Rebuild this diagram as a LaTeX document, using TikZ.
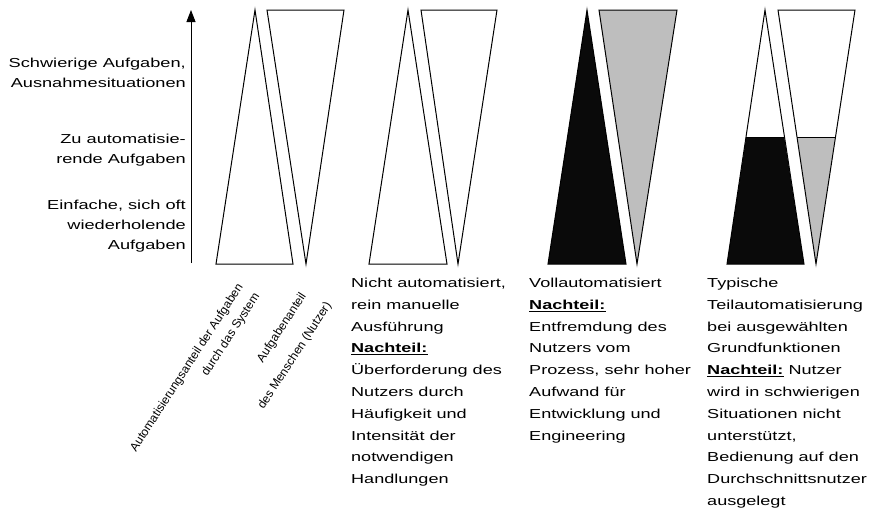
\documentclass[tikz,border=0pt]{standalone}
\usepackage{fontspec}
\setmainfont{Liberation Sans}
\usetikzlibrary{arrows.meta}
\definecolor{tgrey}{RGB}{190,190,190}
\definecolor{tblack}{RGB}{10,10,10}
\newcommand{\widel}[1]{\scalebox{1.39}[1]{\begin{tabular}{@{}l@{}}#1\end{tabular}}}
\newcommand{\wider}[1]{\scalebox{1.40}[1]{\begin{tabular}{@{}r@{}}#1\end{tabular}}}
\tikzset{
  tri/.style={draw=black, line width=1pt, line join=miter},
  lbl/.style={font=\fontsize{13}{20}\selectfont, anchor=east, inner sep=0pt},
  ptxt/.style={font=\fontsize{13}{21.8}\selectfont, anchor=north west, inner sep=0pt},
  rlbl/.style={font=\fontsize{12}{14}\selectfont, anchor=center, inner sep=0pt, rotate=57},
  axis/.style={line width=1pt, -{Triangle[length=12pt,width=9pt]}}
}
\begin{document}
\begin{tikzpicture}[x=1pt,y=-1pt]
\useasboundingbox (0,0) rectangle (871,507);
% axis
\coordinate (ax0) at (191,263);
\coordinate (ax1) at (191,10);
\draw[axis] (ax0) -- (ax1);
% left labels
\node[lbl] (l1) at (186,73) {\wider{Schwierige Aufgaben,\\Ausnahmesituationen}};
\node[lbl] (l2) at (186,149) {\wider{Zu automatisie-\\rende Aufgaben}};
\node[lbl] (l3) at (186,225) {\wider{Einfache, sich oft\\wiederholende\\Aufgaben}};
% pair 1
\draw[tri, fill=white] (216,264) -- (255,10) -- (293,264) -- cycle;
\draw[tri, fill=white] (267,10) -- (344,10) -- (306,264) -- cycle;
% pair 2
\draw[tri, fill=white] (369,264) -- (408,10) -- (447,264) -- cycle;
\draw[tri, fill=white] (421,10) -- (497,10) -- (458,264) -- cycle;
% pair 3
\draw[tri, fill=tblack] (548,264) -- (587,10) -- (626,264) -- cycle;
\draw[tri, fill=tgrey] (599,10) -- (677,10) -- (637,264) -- cycle;
% pair 4
\fill[tblack] (727,264) -- (746.2,137) -- (784.2,137) -- (804,264) -- cycle;
\fill[tgrey] (797.2,137) -- (835.2,137) -- (816,264) -- cycle;
\draw[tri] (727,264) -- (765,10) -- (804,264) -- cycle;
\draw[tri] (746.2,137) -- (784.2,137);
\draw[tri] (778,10) -- (855,10) -- (816,264) -- cycle;
\draw[tri] (797.2,137) -- (835.2,137);
% rotated labels
\node[rlbl] (r1a) at (187,368) {Automatisierungsanteil der Aufgaben};
\node[rlbl] (r1b) at (231,335) {durch das System};
\node[rlbl] (r2a) at (282,328) {Aufgabenanteil};
\node[rlbl] (r2b) at (295,356) {des Menschen (Nutzer)};
% panel texts
\node[ptxt] (t2) at (351,272) {\widel{Nicht automatisiert,\\rein manuelle\\Ausführung\\\underline{\textbf{Nachteil:}}\\Überforderung des\\Nutzers durch\\Häufigkeit und\\Intensität der\\notwendigen\\Handlungen}};
\node[ptxt] (t3) at (529,272) {\widel{Vollautomatisiert\\\underline{\textbf{Nachteil:}}\\Entfremdung des\\Nutzers vom\\Prozess, sehr hoher\\Aufwand für\\Entwicklung und\\Engineering}};
\node[ptxt] (t4) at (707,272) {\widel{Typische\\Teilautomatisierung\\bei ausgewählten\\Grundfunktionen\\\underline{\textbf{Nachteil:}} Nutzer\\wird in schwierigen\\Situationen nicht\\unterstützt,\\Bedienung auf den\\Durchschnittsnutzer\\ausgelegt}};
\end{tikzpicture}
\end{document}
